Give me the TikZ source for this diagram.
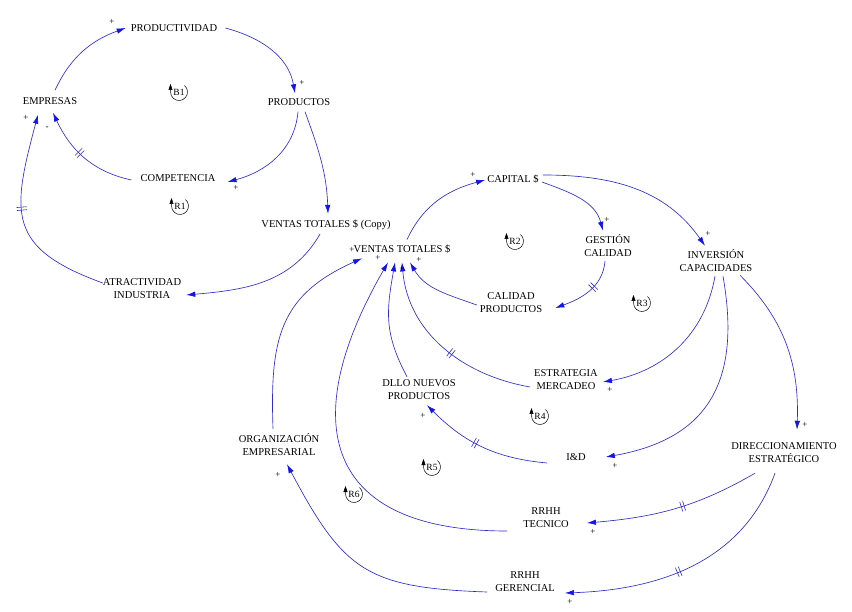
\documentclass[tikz,border=0pt]{standalone}
\usepackage{fontspec}
\setmainfont{Liberation Serif}
\usetikzlibrary{arrows.meta,decorations.markings}
\definecolor{linkblue}{RGB}{45,45,205}
\definecolor{tipblue}{RGB}{20,20,235}
\tikzset{>={Latex[width=5.5pt,length=9pt,color=tipblue]}}
\tikzset{
  var/.style={align=center, inner sep=2pt, font=\fontsize{10.5}{13}\selectfont},
  link/.style={->, draw=linkblue, line width=0.65pt},
  pol/.style={inner sep=0pt, font=\fontsize{9}{10}\selectfont},
  loopname/.style={inner sep=0pt, font=\fontsize{9.5}{10}\selectfont},
  delay/.style={postaction={decorate, decoration={markings, mark=at position #1 with
    {\draw[-, linkblue, line width=0.6pt] (-1.5pt,-5pt) -- (-1.5pt,5pt) (1.5pt,-5pt) -- (1.5pt,5pt);}}}},
}

\begin{document}
\begin{tikzpicture}[x=1pt,y=1pt]

  \useasboundingbox (0,0) rectangle (852,-612);

  \newcommand\LoopMark[3]{%
    \node[loopname] (#1) at (#2) {#3};
    \draw[-{Triangle[length=6pt,width=4pt]}, line width=0.5pt]
      ([shift={(50:8.5pt)}]#1.center) arc[start angle=50, end angle=-180, radius=8.5pt] -- ++(0,8pt);
  }

  % variables
  \node[var] (productividad) at (174,-28)  {PRODUCTIVIDAD};
  \node[var] (empresas)      at (50,-101)  {EMPRESAS};
  \node[var] (productos)     at (299,-102) {PRODUCTOS};
  \node[var] (competencia)   at (178,-178) {COMPETENCIA};
  \node[var] (ventascopy)    at (326,-225) {VENTAS TOTALES \$ (Copy)};
  \node[var] (atract)        at (142,-289) {ATRACTIVIDAD\\INDUSTRIA};
  \node[var] (ventas)        at (402,-249) {VENTAS TOTALES \$};
  \node[var] (capital)       at (513,-179) {CAPITAL \$};
  \node[var] (gestion)       at (608,-246) {GESTIÓN\\CALIDAD};
  \node[var] (inversion)     at (716,-261) {INVERSIÓN\\CAPACIDADES};
  \node[var] (calidad)       at (511,-303) {CALIDAD\\PRODUCTOS};
  \node[var] (estrategia)    at (566,-380) {ESTRATEGIA\\MERCADEO};
  \node[var] (dllo)          at (419,-390) {DLLO NUEVOS\\PRODUCTOS};
  \node[var] (org)           at (279,-445) {ORGANIZACIÓN\\EMPRESARIAL};
  \node[var] (id)            at (576,-457) {I\&D};
  \node[var] (direcc)        at (784,-453) {DIRECCIONAMIENTO\\ESTRATÉGICO};
  \node[var] (rrhhtec)       at (546,-518) {RRHH\\TECNICO};
  \node[var] (rrhhger)       at (525,-582) {RRHH\\GERENCIAL};

  % loops
  \LoopMark{B1}{179,-92}{B1}
  \LoopMark{R1}{180,-206}{R1}
  \LoopMark{R2}{515,-241}{R2}
  \LoopMark{R3}{642,-303}{R3}
  \LoopMark{R4}{540,-416}{R4}
  \LoopMark{R5}{432,-467}{R5}
  \LoopMark{R6}{354,-494}{R6}

  % left part
  \draw[link] ([shift={(5,5)}]empresas.north) to[out=65,in=200] ([xshift=-3]productividad.west); %% EMPRESAS->PRODUCTIVIDAD
  \draw[link] ([xshift=6]productividad.east) to[out=-15,in=100] ([shift={(-4,3)}]productos.north); %% PRODUCTIVIDAD->PRODUCTOS
  \draw[link] ([shift={(-1,-4)}]productos.south) to[out=-95,in=15] ([shift={(10,-4)}]competencia.east); %% PRODUCTOS->COMPETENCIA
  \draw[link,delay=0.55] ([shift={(-7,-2)}]competencia.west) to[out=168,in=-65] ([shift={(3,-6)}]empresas.south); %% COMPETENCIA->EMPRESAS
  \draw[link] ([shift={(6,-4)}]productos.south) to[out=-70,in=92] ([shift={(2,4)}]ventascopy.north); %% PRODUCTOS->VENTAS (Copy)
  \draw[link] ([shift={(-6,-2)}]ventascopy.south) to[out=-120,in=5] ([shift={(3,-6)}]atract.east); %% VENTAS (Copy)->ATRACTIVIDAD
  \draw[link,delay=0.55] ([shift={(2,6)}]atract.west) to[out=160,in=-105,looseness=1.45] ([shift={(-12,-8)}]empresas.south); %% ATRACTIVIDAD->EMPRESAS

  % right part
  \draw[link] ([shift={(5,3)}]ventas.north) to[out=65,in=195] ([yshift=-1]capital.west); %% VENTAS->CAPITAL
  \draw[link] ([shift={(1,-3)}]capital.east) to[out=-20,in=105] ([shift={(-5,2)}]gestion.north); %% CAPITAL->GESTION
  \draw[link] ([shift={(2,4)}]capital.east) to[out=0,in=125] ([shift={(-11,2)}]inversion.north); %% CAPITAL->INVERSION
  \draw[link,delay=0.4] ([shift={(-3,-2)}]gestion.south) to[out=-95,in=20] ([shift={(11,-5)}]calidad.east); %% GESTION->CALIDAD
  \draw[link] ([shift={(-1,-2)}]calidad.west) to[out=160,in=-60] ([shift={(8,-7)}]ventas.south); %% CALIDAD->VENTAS
  \draw[link] ([shift={(-1,-2)}]inversion.south) to[out=-100,in=10] ([shift={(3,-2)}]estrategia.east); %% INVERSION->ESTRATEGIA
  \draw[link] ([shift={(7,-2)}]inversion.south) to[out=-80,in=10,looseness=1.25] ([xshift=18]id.east); %% INVERSION->I&D
  \draw[link] ([shift={(24,-1)}]inversion.south) to[out=-45,in=88] ([shift={(13,11)}]direcc.north); %% INVERSION->DIRECC
  \draw[link,delay=0.45] ([shift={(-2,-7)}]estrategia.west) to[out=170,in=-85] ([yshift=-7]ventas.south); %% ESTRATEGIA->VENTAS
  \draw[link] ([shift={(-12,1)}]dllo.north) to[out=118,in=-100,looseness=1.1] ([shift={(-7,-7)}]ventas.south); %% DLLO->VENTAS
  \draw[link,delay=0.55] ([shift={(-17,-6)}]id.west) to[out=175,in=-45] ([shift={(8,-3)}]dllo.south); %% I&D->DLLO
  \draw[link,delay=0.45] ([shift={(-29,-8)}]direcc.south) to[out=-150,in=5] ([shift={(16,-5)}]rrhhtec.east); %% DIRECC->RRHH TECNICO
  \draw[link,delay=0.55] ([shift={(-9,-8)}]direcc.south) to[out=-110,in=2] ([shift={(8,-11)}]rrhhger.east); %% DIRECC->RRHH GERENCIAL
  \draw[link] ([shift={(-14,-13)}]rrhhtec.west) to[out=180,in=-120,looseness=1.6] ([shift={(-14,-7)}]ventas.south); %% RRHH TECNICO->VENTAS
  \draw[link] ([shift={(-6,-10)}]rrhhger.west) to[out=178,in=-62,looseness=1.3] ([shift={(8,-6)}]org.south); %% RRHH GERENCIAL->ORG
  \draw[link] ([shift={(-6,3)}]org.north) to[out=92,in=-156,looseness=1.2] ([shift={(-40,-3)}]ventas.south); %% ORG->VENTAS

  % polarities
  \node[pol] (s1)  at (112,-22)  {+};
  \node[pol] (s2)  at (302,-83)  {+};
  \node[pol] (s3)  at (236,-188) {+};
  \node[pol] (s4)  at (26,-118)  {+};
  \node[pol] (s5)  at (47,-128)  {-};
  \node[pol] (s6)  at (473,-175) {+};
  \node[pol] (s7)  at (607,-220) {+};
  \node[pol] (s8)  at (708,-234) {+};
  \node[pol] (s9)  at (610,-390) {+};
  \node[pol] (s10) at (615,-466) {+};
  \node[pol] (s11) at (805,-425) {+};
  \node[pol] (s12) at (423,-416) {+};
  \node[pol] (s13) at (593,-532) {+};
  \node[pol] (s14) at (570,-602) {+};
  \node[pol] (s15) at (278,-475) {+};
  \node[pol] (s16) at (352,-250) {+};
  \node[pol] (s17) at (378,-258) {+};
  \node[pol] (s18) at (402,-269) {+};
  \node[pol] (s19) at (419,-260) {+};

\end{tikzpicture}
\end{document}
